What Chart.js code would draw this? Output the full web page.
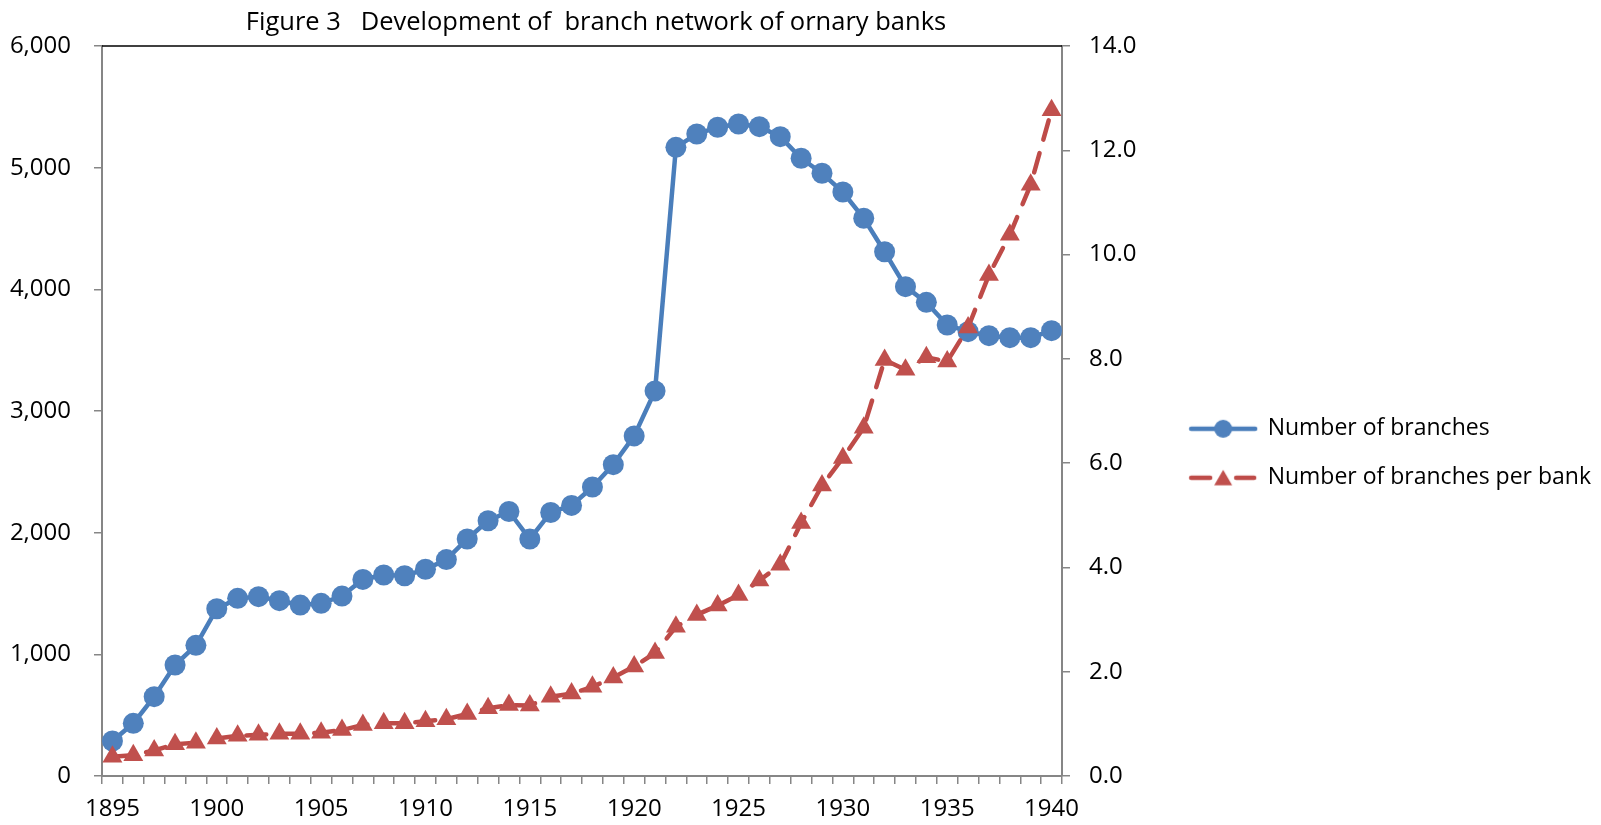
<!DOCTYPE html>
<html><head><meta charset="utf-8">
<script src="https://cdn.jsdelivr.net/npm/chart.js@4"></script>
<style>html,body{margin:0;padding:0;background:#fff}canvas{display:block}</style>
</head><body>
<canvas id="c" width="1601" height="825"></canvas>
<script>
const titleText = 'Figure 3   Development of  branch network of ornary banks';
const seriesNames = ['Number of branches', 'Number of branches per bank'];
const years = [1895,1896,1897,1898,1899,1900,1901,1902,1903,1904,1905,1906,1907,1908,1909,1910,1911,1912,1913,1914,1915,1916,1917,1918,1919,1920,1921,1922,1923,1924,1925,1926,1927,1928,1929,1930,1931,1932,1933,1934,1935,1936,1937,1938,1939,1940];
const branches = [288,433,652,912,1074,1375,1460,1474,1441,1405,1419,1479,1616,1652,1646,1699,1779,1948,2098,2174,1948,2166,2224,2375,2559,2795,3165,5167,5277,5332,5359,5337,5255,5077,4954,4800,4584,4309,4022,3893,3707,3652,3619,3603,3603,3660];
const branchesPerBank = [0.37,0.40,0.49,0.61,0.64,0.72,0.77,0.79,0.81,0.81,0.83,0.88,0.98,1.01,1.01,1.05,1.09,1.19,1.30,1.36,1.35,1.52,1.58,1.71,1.89,2.10,2.36,2.86,3.09,3.27,3.47,3.75,4.05,4.85,5.57,6.10,6.68,7.98,7.79,8.03,7.95,8.60,9.61,10.38,11.34,12.77];
const leftAxis = {min: 0, max: 6000, step: 1000};
const rightAxis = {min: 0, max: 14, step: 2};

const BLUE_LINE = '#4A7EBB', BLUE_MARK = '#4F81BD';
const RED_LINE = '#BE4B48', RED_MARK = '#C0504D';
const AXIS_GREY = '#868686';
const FONT = 'Open Sans';
const TICK_SIZE = 24;
const LEGEND_SIZE = 23;

function legendImg(kind) {
  const c = document.createElement('canvas');
  c.width = 70; c.height = 24;
  const g = c.getContext('2d');
  g.lineCap = 'round'; g.lineWidth = 4.5;
  if (kind === 0) {
    g.strokeStyle = BLUE_LINE;
    g.beginPath(); g.moveTo(3, 12); g.lineTo(67, 12); g.stroke();
    g.fillStyle = BLUE_MARK;
    g.beginPath(); g.arc(35, 12, 9, 0, Math.PI * 2); g.fill();
  } else {
    g.strokeStyle = RED_LINE;
    g.beginPath(); g.moveTo(3, 12); g.lineTo(22, 12); g.moveTo(48, 12); g.lineTo(66, 12); g.stroke();
    g.fillStyle = RED_MARK;
    g.beginPath(); g.moveTo(35, 4); g.lineTo(44, 19.5); g.lineTo(26, 19.5); g.closePath(); g.fill();
  }
  return c;
}
const legendImgs = [legendImg(0), legendImg(1)];

const decor = {
  id: 'decor',
  beforeDatasetsDraw(chart) {
    const {ctx, chartArea: a} = chart;
    ctx.save();
    ctx.strokeStyle = '#000';
    ctx.lineWidth = 1.5;
    ctx.beginPath(); ctx.moveTo(a.left, a.top); ctx.lineTo(a.right, a.top); ctx.stroke();
    ctx.restore();
  },
  afterDraw(chart) {
    const {ctx} = chart;
    ctx.save();
    ctx.fillStyle = '#000';
    ctx.font = '25.5px "' + FONT + '"';
    ctx.textAlign = 'center';
    ctx.textBaseline = 'middle';
    ctx.fillText(titleText, 596, 23);
    ctx.restore();
  }
};

Chart.defaults.font.family = FONT;
Chart.defaults.color = '#000';

const tickFont = {family: FONT, size: TICK_SIZE};

new Chart(document.getElementById('c').getContext('2d'), {
  type: 'line',
  data: {
    labels: years,
    datasets: [
      {
        label: seriesNames[0], data: branches, yAxisID: 'y',
        borderColor: BLUE_LINE, backgroundColor: BLUE_MARK, borderWidth: 4.5,
        pointStyle: 'circle', pointRadius: 10.5,
        pointBackgroundColor: BLUE_MARK, pointBorderColor: BLUE_MARK, pointBorderWidth: 0,
        tension: 0, fill: false, order: 1
      },
      {
        label: seriesNames[1], data: branchesPerBank, yAxisID: 'y1',
        borderColor: RED_LINE, backgroundColor: RED_MARK, borderWidth: 4.5,
        borderDash: [20, 14], borderCapStyle: 'round',
        pointStyle: 'triangle', pointRadius: 11.5,
        pointBackgroundColor: RED_MARK, pointBorderColor: RED_MARK, pointBorderWidth: 0,
        tension: 0, fill: false, order: 0
      }
    ]
  },
  options: {
    responsive: false,
    devicePixelRatio: 1,
    animation: false,
    events: [],
    layout: {padding: {top: 46, left: 0, right: 0, bottom: 0}},
    plugins: {
      title: {display: false},
      tooltip: {enabled: false},
      legend: {
        position: 'right',
        align: 'center',
        maxWidth: 600,
        title: {display: true, text: ' ', font: {size: 13}, padding: 10},
        labels: {
          usePointStyle: true,
          pointStyleWidth: 66,
          padding: 26,
          color: '#000',
          font: {family: FONT, size: LEGEND_SIZE},
          sort: (a, b) => a.datasetIndex - b.datasetIndex,
          generateLabels: chart => Chart.defaults.plugins.legend.labels.generateLabels(chart)
            .map(it => Object.assign({}, it, {pointStyle: legendImgs[it.datasetIndex]}))
        }
      }
    },
    scales: {
      x: {
        type: 'category',
        offset: true,
        grid: {offset: true, drawOnChartArea: false, drawTicks: true, tickLength: 8, color: AXIS_GREY, lineWidth: 1.5},
        border: {color: AXIS_GREY, width: 2},
        ticks: {
          autoSkip: false, maxRotation: 0, minRotation: 0, padding: 11, color: '#000', font: tickFont,
          callback: (v, i) => (years[i] % 5 === 0 ? String(years[i]) : '')
        },
        afterFit: s => { s.height = 49; }
      },
      y: {
        position: 'left',
        min: leftAxis.min, max: leftAxis.max,
        grid: {drawOnChartArea: false, tickLength: 8, color: AXIS_GREY, lineWidth: 1.5},
        border: {color: AXIS_GREY, width: 2},
        ticks: {stepSize: leftAxis.step, padding: 23, color: '#000', font: tickFont,
          callback: v => v.toLocaleString('en-US')},
        afterFit: s => { s.width = 102; }
      },
      y1: {
        position: 'right',
        min: rightAxis.min, max: rightAxis.max,
        grid: {drawOnChartArea: false, tickLength: 8, color: AXIS_GREY, lineWidth: 1.5},
        border: {color: AXIS_GREY, width: 2},
        ticks: {stepSize: rightAxis.step, padding: 19, color: '#000', font: tickFont,
          callback: v => v.toFixed(1)},
        afterFit: s => { s.width = s.chart.width - s.chart.legend.width - 1062; }
      }
    }
  },
  plugins: [decor]
});
</script>
</body></html>
